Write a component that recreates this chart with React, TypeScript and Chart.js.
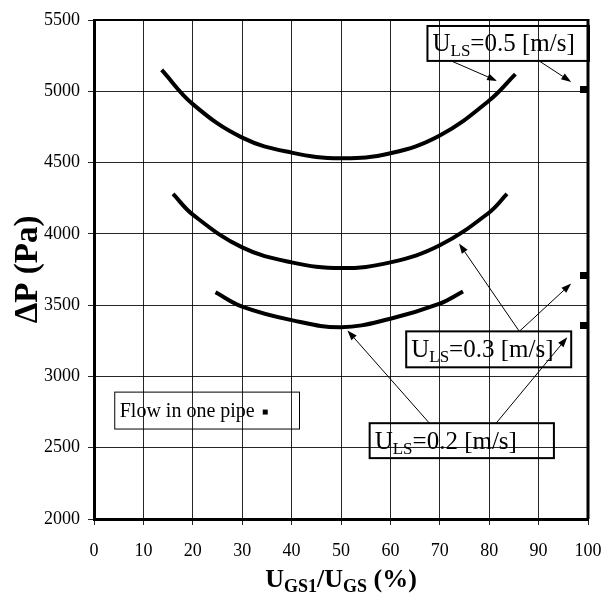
import React, { useEffect, useRef } from "react";
import { Chart, registerables } from "chart.js";

Chart.register(...registerables);

const SERIF = "'Liberation Serif', 'Times New Roman', serif";

// Axis ticks
const ratioTicks = [0, 10, 20, 30, 40, 50, 60, 70, 80, 90, 100];
const pressureTicks = [2000, 2500, 3000, 3500, 4000, 4500, 5000, 5500];

// Pressure drop vs. gas split ratio, U_LS = 0.5 m/s
const ratioUls05 = [13.7, 20, 30, 40, 50, 60, 70, 80, 85.3];
const dpUls05 = [5150, 4910, 4675, 4570, 4530, 4565, 4690, 4935, 5120];

// U_LS = 0.3 m/s
const ratioUls03 = [16, 20, 30, 40, 50, 60, 70, 80, 83.6];
const dpUls03 = [4280, 4135, 3905, 3800, 3760, 3800, 3920, 4150, 4280];

// U_LS = 0.2 m/s
const ratioUls02 = [24.6, 30, 40, 50, 60, 70, 74.7];
const dpUls02 = [3590, 3490, 3395, 3345, 3405, 3510, 3595];

// All gas through a single pipe (100 %)
const onePipeRatio = [100, 100, 100];
const onePipeDp = [5010, 3710, 3360];

type Part = { text: string; sub?: boolean };

const ulsLabel = (v: string): Part[] => [
  { text: "U" },
  { text: "LS", sub: true },
  { text: `=${v} [m/s]` },
];

// Callout boxes (data coordinates) with their leader arrows
const callouts = [
  {
    parts: ulsLabel("0.5"),
    box: [67.5, 5458, 100.2, 5213],
    arrows: [
      [72.3, 5213, 81.6, 5073],
      [90.1, 5213, 96.6, 5066],
    ],
  },
  {
    parts: ulsLabel("0.3"),
    box: [63.2, 3316, 96.6, 3064],
    arrows: [
      [86.1, 3316, 73.9, 3932],
      [86.1, 3316, 96.6, 3652],
    ],
  },
  {
    parts: ulsLabel("0.2"),
    box: [55.8, 2672, 93.1, 2427],
    arrows: [
      [67.9, 2672, 51.3, 3323],
      [81.4, 2672, 95.8, 3274],
    ],
  },
];

const legendBox = [4.2, 2890, 41.6, 2631];
const legendText = "Flow in one pipe";

function drawParts(
  ctx: CanvasRenderingContext2D,
  parts: Part[],
  x: number,
  y: number,
  size: number,
  weight: string,
  align: "left" | "center"
) {
  const subSize = Math.round(size * 0.68);
  const fontOf = (sub?: boolean) => `${weight} ${sub ? subSize : size}px ${SERIF}`;
  let total = 0;
  for (const p of parts) {
    ctx.font = fontOf(p.sub);
    total += ctx.measureText(p.text).width;
  }
  let cx = align === "center" ? x - total / 2 : x;
  ctx.textAlign = "left";
  ctx.textBaseline = "alphabetic";
  for (const p of parts) {
    ctx.font = fontOf(p.sub);
    ctx.fillText(p.text, cx, p.sub ? y + size * 0.2 : y);
    cx += ctx.measureText(p.text).width;
  }
}

function drawArrow(ctx: CanvasRenderingContext2D, x0: number, y0: number, x1: number, y1: number) {
  const ang = Math.atan2(y1 - y0, x1 - x0);
  const len = 10;
  const half = 3.5;
  const c = Math.cos(ang);
  const s = Math.sin(ang);
  ctx.lineWidth = 1;
  ctx.beginPath();
  ctx.moveTo(x0, y0);
  ctx.lineTo(x1 - c * len, y1 - s * len);
  ctx.stroke();
  ctx.beginPath();
  ctx.moveTo(x1, y1);
  ctx.lineTo(x1 - c * len + s * half, y1 - s * len - c * half);
  ctx.lineTo(x1 - c * len - s * half, y1 - s * len + c * half);
  ctx.closePath();
  ctx.fill();
}

// Marker whose left half is filled: sits inside the right frame at 100 %
function makeEdgeMarker(): HTMLCanvasElement {
  const c = document.createElement("canvas");
  c.width = 16;
  c.height = 7;
  const g = c.getContext("2d")!;
  g.fillStyle = "#000";
  g.fillRect(0, 0, 8, 7);
  return c;
}

const overlayPlugin = {
  id: "overlay",
  afterDraw(chart: any) {
    const { ctx, chartArea: a, scales } = chart;
    const xs = scales.x;
    const ys = scales.y;
    const px = (v: number) => xs.getPixelForValue(v);
    const py = (v: number) => ys.getPixelForValue(v);
    ctx.save();
    ctx.strokeStyle = "#000";
    ctx.fillStyle = "#000";

    // top and right frame lines
    ctx.lineWidth = 2;
    ctx.beginPath();
    ctx.moveTo(a.left, a.top);
    ctx.lineTo(a.right, a.top);
    ctx.stroke();
    ctx.lineWidth = 3;
    ctx.beginPath();
    ctx.moveTo(a.right, a.top - 1);
    ctx.lineTo(a.right, a.bottom);
    ctx.stroke();

    // callouts
    for (const co of callouts) {
      const [x0, y0, x1, y1] = co.box;
      const l = px(x0), t = py(y0), r = px(x1), b = py(y1);
      ctx.lineWidth = 2;
      ctx.strokeRect(l, t, r - l, b - t);
      drawParts(ctx, co.parts, l + 5, (t + b) / 2 + 8, 25, "normal", "left");
      for (const [ax0, ay0, ax1, ay1] of co.arrows) {
        drawArrow(ctx, px(ax0), py(ay0), px(ax1), py(ay1));
      }
    }

    // legend box
    {
      const [x0, y0, x1, y1] = legendBox;
      const l = px(x0), t = py(y0), r = px(x1), b = py(y1);
      ctx.lineWidth = 1;
      ctx.strokeRect(l, t, r - l, b - t);
      ctx.font = `normal 20px ${SERIF}`;
      ctx.textAlign = "left";
      ctx.textBaseline = "alphabetic";
      ctx.fillText(legendText, l + 5, (t + b) / 2 + 6);
      const w = ctx.measureText(legendText).width;
      ctx.fillRect(l + 5 + w + 8, (t + b) / 2 - 1, 5, 5);
    }

    // axis titles
    drawParts(
      ctx,
      [
        { text: "U" },
        { text: "GS1", sub: true },
        { text: "/U" },
        { text: "GS", sub: true },
        { text: " (%)" },
      ],
      (a.left + a.right) / 2,
      587,
      26,
      "bold",
      "center"
    );
    ctx.save();
    ctx.translate(37, (a.top + a.bottom) / 2);
    ctx.rotate(-Math.PI / 2);
    drawParts(ctx, [{ text: "\u0394P (Pa)" }], 0, 0, 33, "bold", "center");
    ctx.restore();

    ctx.restore();
  },
};

const curve = (xs: number[], ys: number[]) => ({
  data: xs.map((x, i) => ({ x, y: ys[i] })),
  showLine: true,
  borderColor: "#000",
  borderWidth: 4,
  pointRadius: 0,
  tension: 0.4,
  fill: false,
});

export default function App() {
  const ref = useRef<HTMLCanvasElement>(null);

  useEffect(() => {
    document.body.style.margin = "0";
    const marker = makeEdgeMarker();
    const chart = new Chart(ref.current!, {
      type: "scatter",
      data: {
        datasets: [
          curve(ratioUls05, dpUls05),
          curve(ratioUls03, dpUls03),
          curve(ratioUls02, dpUls02),
          {
            data: onePipeRatio.map((x, i) => ({ x, y: onePipeDp[i] })),
            showLine: false,
            pointStyle: marker,
            pointRadius: 8,
            backgroundColor: "#000",
            borderColor: "#000",
          },
        ] as any,
      },
      options: {
        responsive: false,
        devicePixelRatio: 1,
        animation: false,
        layout: { padding: { top: 20, right: 17, left: 0, bottom: 0 } },
        plugins: { legend: { display: false }, tooltip: { enabled: false } },
        scales: {
          x: {
            type: "linear",
            min: ratioTicks[0],
            max: ratioTicks[ratioTicks.length - 1],
            afterBuildTicks: (s: any) => {
              s.ticks = ratioTicks.map((v) => ({ value: v }));
            },
            afterFit: (s: any) => {
              s.height = 94;
              s.paddingLeft = 0;
              s.paddingRight = 0;
            },
            ticks: {
              color: "#000",
              padding: 15,
              font: { family: SERIF, size: 18 },
              callback: (v: any) => String(v),
            },
            grid: { color: "rgba(0,0,0,0.85)", lineWidth: 1, tickLength: 6 },
            border: { display: true, color: "#000", width: 3 },
          },
          y: {
            type: "linear",
            min: pressureTicks[0],
            max: pressureTicks[pressureTicks.length - 1],
            afterBuildTicks: (s: any) => {
              s.ticks = pressureTicks.map((v) => ({ value: v }));
            },
            afterFit: (s: any) => {
              s.width = 94;
              s.paddingTop = 0;
              s.paddingBottom = 0;
            },
            ticks: {
              color: "#000",
              padding: 8,
              font: { family: SERIF, size: 18 },
              callback: (v: any) => String(v),
            },
            grid: { color: "rgba(0,0,0,0.85)", lineWidth: 1, tickLength: 6 },
            border: { display: true, color: "#000", width: 3 },
          },
        },
      },
      plugins: [overlayPlugin],
    } as any);
    return () => chart.destroy();
  }, []);

  return (
    <div style={{ width: 605, height: 613, background: "#fff" }}>
      <canvas ref={ref} width={605} height={613} style={{ display: "block" }} />
    </div>
  );
}
